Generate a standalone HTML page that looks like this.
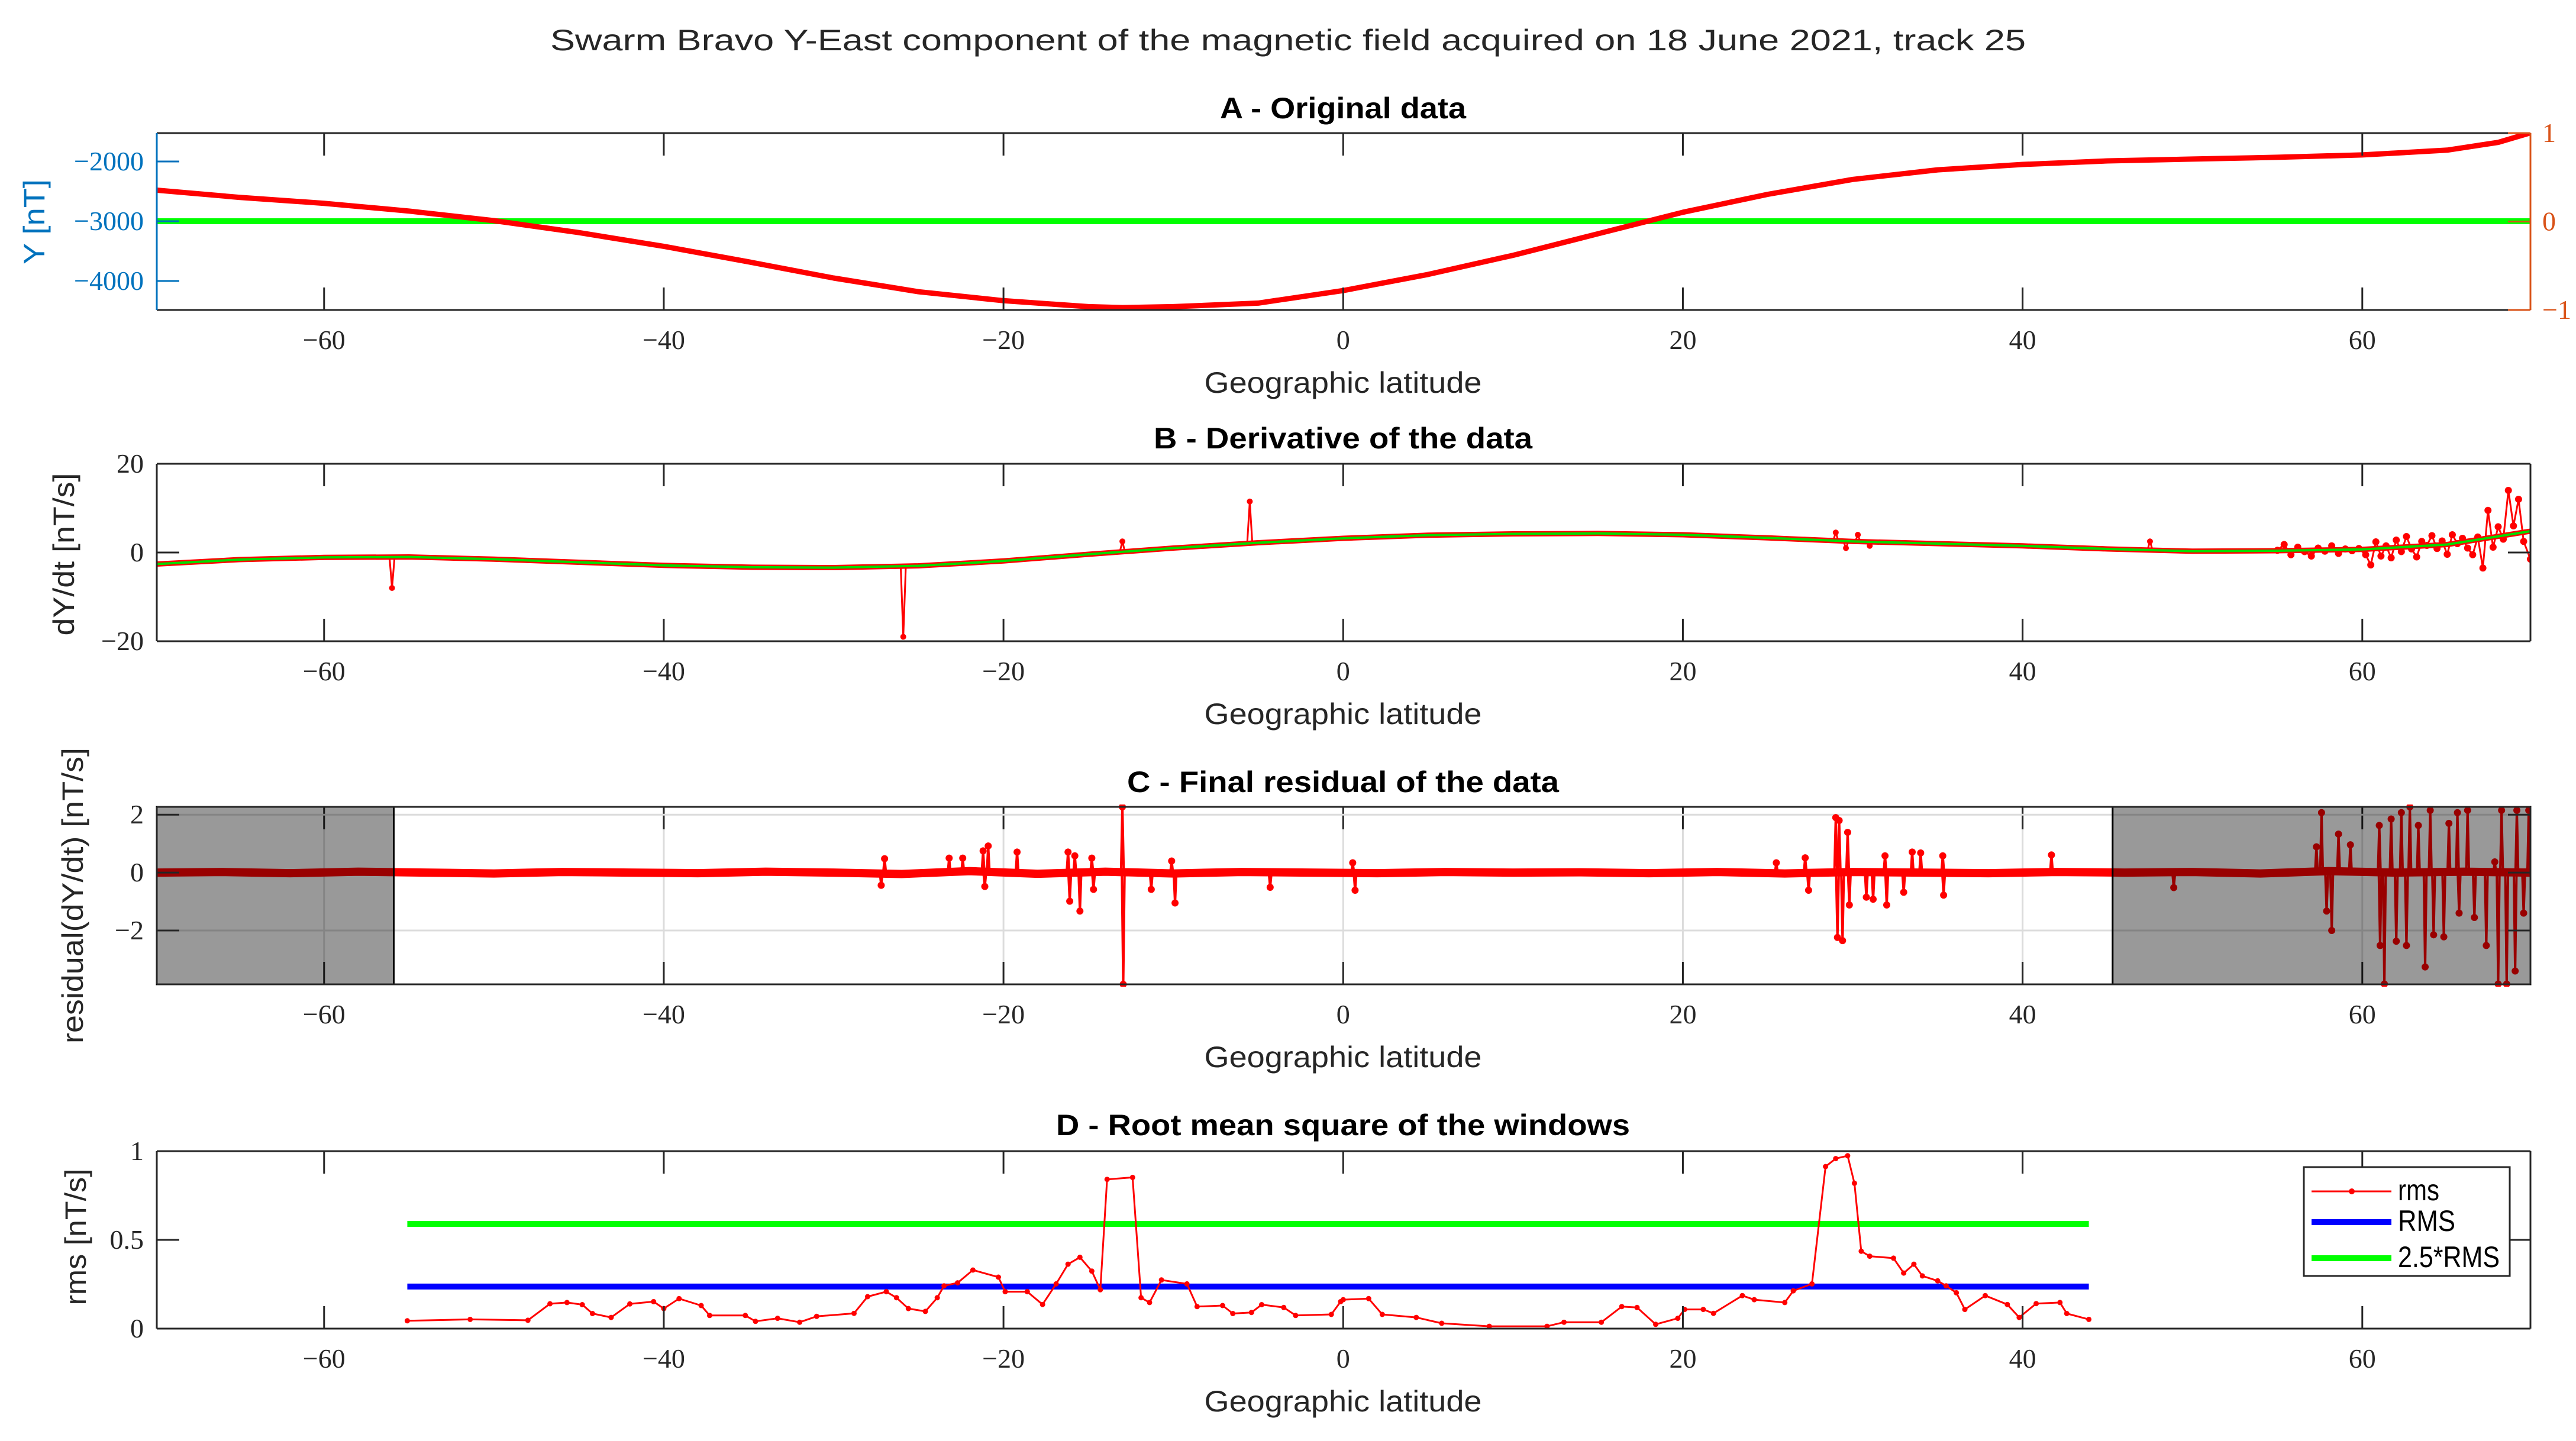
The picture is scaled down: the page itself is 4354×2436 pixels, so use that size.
<!DOCTYPE html>
<html><head><meta charset="utf-8"><style>
html,body{margin:0;padding:0;background:#fff;}
svg{display:block;}
.tk{font-family:"Liberation Serif",serif;font-size:46px;fill:#262626;}
.lab{font-family:"Liberation Sans",sans-serif;font-size:50px;fill:#262626;}
.ttl{font-family:"Liberation Sans",sans-serif;font-size:50px;font-weight:bold;fill:#000;}
</style></head><body>
<svg id="fig" width="4354" height="2436" viewBox="0 0 4354 2436" xmlns="http://www.w3.org/2000/svg">
<rect width="4354" height="2436" fill="#fff"/>
<text class="lab" x="2177" y="85" text-anchor="middle" font-size="54" textLength="2494" lengthAdjust="spacingAndGlyphs">Swarm Bravo Y-East component of the magnetic field acquired on 18 June 2021, track 25</text>
</svg>
<script>
// ---------- data ----------
const xTicks = [-60,-40,-20,0,20,40,60];
// Panel A
const latA = [-69.85,-65,-60,-55,-50,-45,-40,-35,-30,-25,-20,-15,-13,-10,-5,0,5,10,15,20,25,30,35,40,45,50,55,60,65,68,69.9];
const valA = [-2480,-2600,-2700,-2830,-2990,-3190,-3420,-3680,-3950,-4180,-4330,-4430,-4445,-4430,-4370,-4160,-3890,-3570,-3210,-2850,-2550,-2300,-2140,-2050,-1990,-1960,-1930,-1890,-1810,-1680,-1520];
const refA = -3000;
const yTicksA = [-2000,-3000,-4000];
const yTickLabelsA = ["\u22122000","\u22123000","\u22124000"];
const rTicksA = [1,0,-1];
const rTickLabelsA = ["1","0","\u22121"];
// Panel B
const latB = [-69.85,-65,-60,-55,-50,-45,-40,-35,-30,-25,-20,-15,-10,-5,0,5,10,15,20,25,30,35,40,45,50,55,60,65,69.9];
const fitB = [-2.6,-1.6,-1.1,-1.0,-1.5,-2.2,-2.9,-3.3,-3.4,-3.0,-1.9,-0.4,1.0,2.2,3.2,3.9,4.2,4.3,4.0,3.3,2.5,2.0,1.5,0.8,0.3,0.4,0.7,1.8,4.8];
const spikeLatB = [-56,-25.9,-13,-5.5,29,29.6,30.3,31,47.5];
const spikeValB = [-8,-19,2.5,11.5,4.5,1.0,4.0,1.5,2.5];
const noiseLatB = [55,55.4,55.8,56.2,56.6,57,57.4,57.8,58.2,58.6,59,59.4,59.8,60.2,60.5,60.8,61.1,61.4,61.7,62,62.3,62.6,62.9,63.2,63.5,63.8,64.1,64.4,64.7,65,65.3,65.6,65.9,66.2,66.5,66.8,67.1,67.4,67.7,68,68.3,68.6,68.9,69.2,69.5,69.9];
const noiseValB = [0.5,1.8,-0.5,1.2,0.2,-0.8,1.0,0.3,1.5,-0.2,0.8,0.4,0.9,-0.5,-2.8,2.4,-0.8,1.5,-1.2,2.8,0.2,3.6,0.8,-1.0,2.5,1.6,3.8,0.9,2.6,-0.4,4.0,2.0,3.2,1.0,-0.5,3.5,-3.5,9.5,1.2,5.8,3.0,14.0,6.0,12.0,2.5,-1.5];
const yTicksB = [20,0,-20];
const yTickLabelsB = ["20","0","\u221220"];
// Panel C
const baseLatC = [-69.85,-66,-62,-58,-54,-50,-46,-42,-38,-34,-30,-26,-22,-18,-14,-10,-6,-2,2,6,10,14,18,22,26,30,34,38,42,46,50,54,58,62,66,69.9];
const baseValC = [0,0.02,-0.02,0.03,0,-0.03,0.02,0,-0.02,0.03,0,-0.05,0.05,-0.04,0.03,-0.03,0.02,0,-0.02,0.02,0,0.01,-0.02,0.02,-0.03,0.02,0,-0.02,0.02,0,0.02,-0.03,0.05,0,0.03,0];
const spikeLatC = [-27.2,-27.0,-23.2,-22.4,-21.2,-20.9,-21.1,-19.2,-16.2,-16.1,-15.8,-15.5,-14.8,-14.7,-13.0,-12.95,-11.3,-9.9,-10.1,-4.3,0.7,0.56,29.0,29.1,29.4,29.2,29.7,29.8,27.4,27.2,30.8,31.2,31.9,32.0,33.0,33.5,34.0,35.3,35.35,41.7,25.5,48.9,57.6,57.9,58.2,57.3,58.6,59.3,61.0,61.05,61.3,61.7,62.0,62.3,62.6,62.8,63.3,63.7,64.0,64.2,64.8,65.1,65.6,65.7,66.2,66.6,67.3,67.8,68.0,68.2,68.5,69.0,69.1,69.5,69.8];
const spikeValC = [-0.44,0.48,0.5,0.5,0.75,0.92,-0.48,0.71,0.71,-0.99,0.58,-1.33,0.5,-0.58,2.27,-3.86,-0.58,-1.05,0.4,-0.51,-0.61,0.34,1.9,-2.24,-2.35,1.8,1.39,-1.12,-0.61,0.51,-0.85,-0.92,0.58,-1.12,-0.68,0.71,0.68,0.58,-0.78,0.61,0.34,-0.52,2.07,-1.33,-2.0,0.89,1.33,0.96,1.63,-2.52,-3.85,1.85,-2.37,2.07,-2.52,2.27,1.63,-3.26,2.15,-2.15,-2.22,1.7,2.07,-1.4,2.15,-1.55,-2.52,0.37,-3.85,2.15,-3.85,-3.4,2.15,-1.4,2.15];
const yTicksC = [2,0,-2];
const yTickLabelsC = ["2","0","\u22122"];
const shadeC = [[-69.85,-55.9],[45.3,69.9]];
// Panel D
const latD = [-55.1,-51.4,-48,-46.7,-45.7,-44.8,-44.2,-43.1,-42,-40.6,-40,-39.1,-37.8,-37.3,-35.2,-34.6,-33.3,-32,-31,-28.8,-28,-26.9,-26.3,-25.6,-24.6,-23.9,-23.5,-22.7,-21.8,-20.3,-19.9,-18.6,-17.7,-16.9,-16.2,-15.5,-14.8,-14.3,-13.9,-12.4,-11.9,-11.4,-10.7,-9.2,-8.6,-7.1,-6.5,-5.4,-4.8,-3.5,-2.8,-0.7,-0.15,0,1.5,2.3,4.3,5.8,8.6,12,13,15.2,16.4,17.3,18.4,19.7,20.1,21.2,21.8,23.5,24.2,26,26.5,27.6,28.4,29,29.7,30.1,30.5,31,32.4,33,33.6,34.1,35,35.5,36.1,36.6,37.8,39.1,39.8,40.8,42.2,42.6,43.9];
const rmsD = [0.044,0.052,0.047,0.14,0.147,0.135,0.085,0.063,0.139,0.152,0.113,0.169,0.13,0.074,0.074,0.041,0.058,0.036,0.069,0.086,0.18,0.208,0.174,0.113,0.097,0.174,0.241,0.258,0.33,0.29,0.208,0.208,0.136,0.252,0.363,0.402,0.324,0.219,0.841,0.852,0.174,0.147,0.274,0.252,0.124,0.13,0.085,0.091,0.135,0.119,0.074,0.08,0.152,0.163,0.169,0.08,0.063,0.03,0.013,0.013,0.036,0.036,0.124,0.119,0.024,0.058,0.108,0.108,0.086,0.186,0.163,0.147,0.213,0.252,0.913,0.958,0.974,0.819,0.436,0.408,0.397,0.313,0.363,0.297,0.269,0.241,0.202,0.108,0.186,0.136,0.063,0.141,0.147,0.085,0.052];
const RMS = 0.237;
const RMS25 = 0.59;
const yTicksD = [1,0.5,0];
const yTickLabelsD = ["1","0.5","0"];

// ---------- layout ----------
const NS = "http://www.w3.org/2000/svg";
const svg = document.getElementById('fig');
const L = 265, R = 4277, XMIN = -69.85, XMAX = 69.9;
function X(v){ return L + (v - XMIN) / (XMAX - XMIN) * (R - L); }
function mk(tag, attrs, parent){
  const e = document.createElementNS(NS, tag);
  for (const k in attrs) e.setAttribute(k, attrs[k]);
  (parent || svg).appendChild(e);
  return e;
}
function yScale(top, bot, ymin, ymax){ return v => bot - (v - ymin) / (ymax - ymin) * (bot - top); }
function clipFor(id, top, bot){
  const cp = mk('clipPath', {id: id});
  mk('rect', {x: L, y: top, width: R - L, height: bot - top}, cp);
}
function pts(xs, ys, Y){ return xs.map((x, i) => X(x).toFixed(1) + ',' + Y(ys[i]).toFixed(1)).join(' '); }

function frame(top, bot, name, leftColor, rightColor){
  const g = mk('g', {});
  
  
  mk('line', {x1: L, y1: top, x2: R, y2: top, stroke: '#262626', 'stroke-width': 3}, g);
  mk('line', {x1: L, y1: bot, x2: R, y2: bot, stroke: '#262626', 'stroke-width': 3}, g);
  mk('line', {x1: L, y1: top, x2: L, y2: bot, stroke: leftColor || '#262626', 'stroke-width': 3}, g);
  mk('line', {x1: R, y1: top, x2: R, y2: bot, stroke: rightColor || '#262626', 'stroke-width': 3}, g);
  return g;
}
function xAxis(top, bot, name, grid){
  const g = mk('g', {});
  
  
  xTicks.forEach(t => {
    const x = X(t);
    if (grid) mk('line', {x1: x, y1: top, x2: x, y2: bot, stroke: '#dcdcdc', 'stroke-width': 3}, g);
    mk('line', {x1: x, y1: top, x2: x, y2: top + 38, stroke: '#262626', 'stroke-width': 3}, g);
    mk('line', {x1: x, y1: bot, x2: x, y2: bot - 38, stroke: '#262626', 'stroke-width': 3}, g);
    const tx = mk('text', {x: x, y: bot + 66, class: 'tk', 'text-anchor': 'middle'}, g);
    tx.textContent = t < 0 ? '\u2212' + Math.abs(t) : String(t);
  });
  const xl = mk('text', {x: 2270, y: bot + 140, class: 'lab', 'text-anchor': 'middle', textLength: 469, lengthAdjust: 'spacingAndGlyphs'});
  
  
  xl.textContent = 'Geographic latitude';
}
function yAxis(Y, ticks, labels, name, color, grid, top, bot, both){
  const g = mk('g', {});
  
  
  ticks.forEach((t, i) => {
    const y = Y(t);
    if (grid) mk('line', {x1: L, y1: y, x2: R, y2: y, stroke: '#dcdcdc', 'stroke-width': 3}, g);
    mk('line', {x1: L, y1: y, x2: L + 38, y2: y, stroke: color, 'stroke-width': 3}, g);
    if (both) mk('line', {x1: R, y1: y, x2: R - 38, y2: y, stroke: '#262626', 'stroke-width': 3}, g);
    const tx = mk('text', {x: 243, y: y + 15, class: 'tk', 'text-anchor': 'end', fill: color}, g);
    tx.setAttribute('style', 'fill:' + color);
    tx.textContent = labels[i];
  });
}
function yTitle(x, cy, len, text, name, color){
  const t = mk('text', {x: 0, y: 0, class: 'lab', 'text-anchor': 'middle', transform: 'translate(' + x + ',' + cy + ') rotate(-90)', textLength: len, lengthAdjust: 'spacingAndGlyphs'});
  if (color) t.setAttribute('style', 'fill:' + color);
  
  
  t.textContent = text;
}
function pTitle(cy, len, text, name){
  const t = mk('text', {x: 2270, y: cy + 17, class: 'ttl', 'text-anchor': 'middle', textLength: len, lengthAdjust: 'spacingAndGlyphs'});
  
  
  t.textContent = text;
}

// ---------- Panel A ----------
(function(){
  const top = 225, bot = 524;
  const Y = yScale(top, bot, -4485, -1525);
  const Yr = yScale(top, bot, -1, 1);
  pTitle(183, 416, 'A - Original data', 'panel-a-title');
  clipFor('cA', top, bot);
  const g = mk('g', {'clip-path': 'url(#cA)'});
  const ref = mk('line', {x1: X(XMIN), x2: X(XMAX), y1: Y(refA), y2: Y(refA), stroke: '#00ff00', 'stroke-width': 10}, g);
  
  
  const ln = mk('polyline', {points: pts(latA, valA, Y), fill: 'none', stroke: '#ff0000', 'stroke-width': 9, 'stroke-linejoin': 'round'}, g);
  
  
  xAxis(top, bot, 'panel-a', false);
  frame(top, bot, 'panel-a', '#0072BD', '#D95319');
  yAxis(Y, yTicksA, yTickLabelsA, 'panel-a-left', '#0072BD', false, top, bot, false);
  const gr = mk('g', {});
  
  
  rTicksA.forEach((t, i) => {
    const y = Yr(t);
    mk('line', {x1: R, y1: y, x2: R - 38, y2: y, stroke: '#D95319', 'stroke-width': 3}, gr);
    const tx = mk('text', {x: R + 20, y: y + 15, class: 'tk', 'font-size': 40}, gr);
    tx.setAttribute('style', 'fill:#D95319');
    tx.textContent = rTickLabelsA[i];
  });
  yTitle(75, 375, 144, 'Y [nT]', 'panel-a-y-axis-title', '#0072BD');
})();

// ---------- Panel B ----------
(function(){
  const top = 784, bot = 1084;
  const Y = yScale(top, bot, -20, 20);
  pTitle(741, 640, 'B - Derivative of the data', 'panel-b-title');
  clipFor('cB', top, bot);
  const g = mk('g', {'clip-path': 'url(#cB)'});
  const fitAt = v => { for (let i = 0; i < latB.length - 1; i++) if (v >= latB[i] && v <= latB[i+1]) { const f = (v - latB[i]) / (latB[i+1] - latB[i]); return fitB[i] + f * (fitB[i+1] - fitB[i]); } return fitB[fitB.length-1]; };
  const data = mk('polyline', {points: pts(latB, fitB, Y), fill: 'none', stroke: '#ff0000', 'stroke-width': 9, 'stroke-linejoin': 'round'}, g);
  
  
  spikeLatB.forEach((s, i) => {
    const b = fitAt(s);
    const p = mk('polyline', {points: X(s - 0.15) + ',' + Y(b) + ' ' + X(s) + ',' + Y(spikeValB[i]) + ' ' + X(s + 0.15) + ',' + Y(b), fill: 'none', stroke: '#ff0000', 'stroke-width': 3}, g);
    
    
    mk('circle', {cx: X(s), cy: Y(spikeValB[i]), r: 5, fill: '#ff0000'}, g);
  });
  const nz = mk('polyline', {points: pts(noiseLatB, noiseValB, Y), fill: 'none', stroke: '#ff0000', 'stroke-width': 3}, g);
  
  
  noiseLatB.forEach((s, i) => mk('circle', {cx: X(s), cy: Y(noiseValB[i]), r: 6, fill: '#ff0000'}, g));
  const fit = mk('polyline', {points: pts(latB, fitB, Y), fill: 'none', stroke: '#00dd00', 'stroke-width': 4}, g);
  
  
  xAxis(top, bot, 'panel-b', false);
  frame(top, bot, 'panel-b');
  yAxis(Y, yTicksB, yTickLabelsB, 'panel-b', '#262626', false, top, bot, true);
  yTitle(125, 937, 275, 'dY/dt [nT/s]', 'panel-b-y-axis-title');
})();

// ---------- Panel C ----------
(function(){
  const top = 1364, bot = 1664;
  const Y = yScale(top, bot, -3.86, 2.27);
  pTitle(1322, 730, 'C - Final residual of the data', 'panel-c-title');
  xAxis(top, bot, 'panel-c', true);
  clipFor('cC', top - 4, bot + 4);
  const g = mk('g', {'clip-path': 'url(#cC)'});
  yTicksC.forEach(t => mk('line', {x1: L, y1: Y(t), x2: R, y2: Y(t), stroke: '#dcdcdc', 'stroke-width': 3}, g));
  const base = mk('polyline', {points: pts(baseLatC, baseValC, Y), fill: 'none', stroke: '#ff0000', 'stroke-width': 14, 'stroke-linejoin': 'round'}, g);
  
  
  spikeLatC.forEach((s, i) => {
    const p = mk('polyline', {points: X(s - 0.08) + ',' + Y(0) + ' ' + X(s) + ',' + Y(spikeValC[i]) + ' ' + X(s + 0.08) + ',' + Y(0), fill: 'none', stroke: '#ff0000', 'stroke-width': 4}, g);
    
    
    mk('circle', {cx: X(s), cy: Y(spikeValC[i]), r: 6, fill: '#ff0000'}, g);
  });
  shadeC.forEach(r => {
    const s = mk('rect', {x: X(r[0]), y: top, width: X(r[1]) - X(r[0]), height: bot - top, fill: '#000', 'fill-opacity': 0.4, stroke: '#000', 'stroke-width': 3});
    
    
  });
  frame(top, bot, 'panel-c');
  yAxis(Y, yTicksC, yTickLabelsC, 'panel-c', '#262626', false, top, bot, true);
  yTitle(140, 1514, 500, 'residual(dY/dt) [nT/s]', 'panel-c-y-axis-title');
})();

// ---------- Panel D ----------
(function(){
  const top = 1946, bot = 2246;
  const Y = yScale(top, bot, 0, 1);
  pTitle(1902, 970, 'D - Root mean square of the windows', 'panel-d-title');
  const lo = latD[0], hi = latD[latD.length - 1];
  const gl = mk('line', {x1: X(lo), x2: X(hi), y1: Y(RMS25), y2: Y(RMS25), stroke: '#00ff00', 'stroke-width': 10});
  
  
  const bl = mk('line', {x1: X(lo), x2: X(hi), y1: Y(RMS), y2: Y(RMS), stroke: '#0000ff', 'stroke-width': 10});
  
  
  const ln = mk('polyline', {points: pts(latD, rmsD, Y), fill: 'none', stroke: '#ff0000', 'stroke-width': 3, 'stroke-linejoin': 'round'});
  
  
  latD.forEach((s, i) => mk('circle', {cx: X(s), cy: Y(rmsD[i]), r: 4.5, fill: '#ff0000'}));
  xAxis(top, bot, 'panel-d', false);
  frame(top, bot, 'panel-d');
  yAxis(Y, yTicksD, yTickLabelsD, 'panel-d', '#262626', false, top, bot, true);
  yTitle(145, 2091, 231, 'rms [nT/s]', 'panel-d-y-axis-title');
  const lg = mk('g', {});
  
  
  mk('rect', {x: 3894, y: 1973, width: 348, height: 184, fill: '#fff', stroke: '#262626', 'stroke-width': 3}, lg);
  const ents = [['rms', '#ff0000', 3, 2014, 70], ['RMS', '#0000ff', 10, 2066, 97], ['2.5*RMS', '#00ff00', 10, 2127, 172]];
  ents.forEach(e => {
    const eg = mk('g', {}, lg);
    
    
    mk('line', {x1: 3907, x2: 4042, y1: e[3], y2: e[3], stroke: e[1], 'stroke-width': e[2]}, eg);
    if (e[0] === 'rms') mk('circle', {cx: 3975, cy: e[3], r: 5, fill: '#ff0000'}, eg);
    const t = mk('text', {x: 4053, y: e[3] + 15, class: 'lab', 'font-size': 42, textLength: e[4], lengthAdjust: 'spacingAndGlyphs'}, eg);
    t.setAttribute('style', 'fill:#000');
    t.textContent = e[0];
  });
})();
</script>
</body></html>
